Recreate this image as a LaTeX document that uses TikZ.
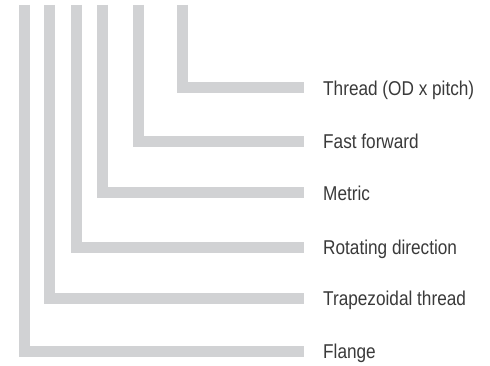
\documentclass[tikz,border=0pt]{standalone}
\usepackage{fontspec}
\setmainfont{Liberation Sans}
\definecolor{barcol}{HTML}{D1D2D4}
\definecolor{txtcol}{HTML}{3A3A3A}
\newcommand{\narrowtxt}[1]{\scalebox{0.86}[1]{#1}}
\begin{document}
\begin{tikzpicture}[x=1pt,y=-1pt,
  bar/.style={draw=barcol,line width=11pt,line cap=butt,line join=miter},
  lbl/.style={anchor=west,inner sep=0pt,text height=14.3pt,text depth=0pt,
    font=\fontsize{20}{24}\selectfont,text=txtcol}]
\useasboundingbox[fill=white] (0,0) rectangle (490,366);
% labels
\node[lbl] (l6) at (323,88) {\narrowtxt{Thread (OD x pitch)}};
\node[lbl] (l5) at (323,141.5) {\narrowtxt{Fast forward}};
\node[lbl] (l4) at (323,193) {\narrowtxt{Metric}};
\node[lbl] (l3) at (323,247.5) {\narrowtxt{Rotating direction}};
\node[lbl] (l2) at (323,298.5) {\narrowtxt{Trapezoidal thread}};
\node[lbl] (l1) at (323,351.5) {\narrowtxt{Flange}};
% bar tops
\coordinate (t1) at (24,5);
\coordinate (t2) at (49.5,5);
\coordinate (t3) at (76,5);
\coordinate (t4) at (102.5,5);
\coordinate (t5) at (138.5,5);
\coordinate (t6) at (182.5,5);
% bars
\foreach \i in {1,...,6}
  \draw[bar] (t\i) |- ([xshift=-19pt]l\i.west);
\end{tikzpicture}
\end{document}
